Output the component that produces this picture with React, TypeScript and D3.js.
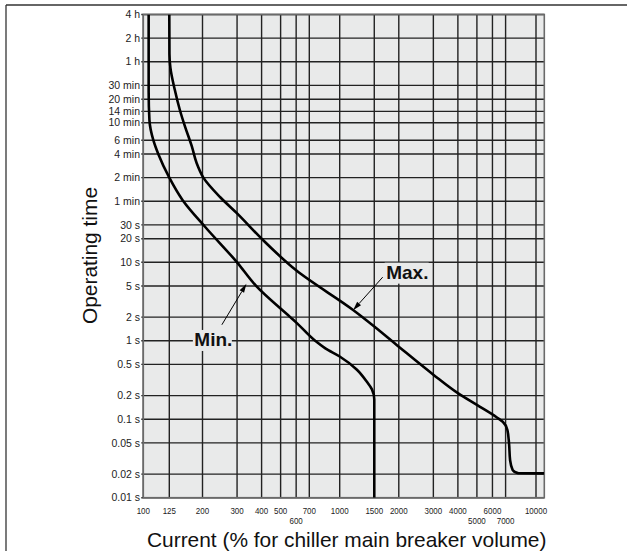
import React from 'react';
import * as d3 from 'd3';

// ---------- data ----------
const xTickValues = [100, 125, 200, 300, 400, 500, 600, 700, 1000, 1500, 2000, 3000, 4000, 5000, 6000, 7000, 10000];
const xTickLowerRow = [600, 5000, 7000];

const yTickValues = [0.01, 0.02, 0.05, 0.1, 0.2, 0.5, 1, 2, 5, 10, 20, 30, 60, 120, 240, 360, 600, 840, 1200, 1800, 3600, 7200, 14400];
const yTickLabels = ['0.01 s', '0.02 s', '0.05 s', '0.1 s', '0.2 s', '0.5 s', '1 s', '2 s', '5 s', '10 s', '20 s', '30 s', '1 min', '2 min', '4 min', '6 min', '10 min', '14 min', '20 min', '30 min', '1 h', '2 h', '4 h'];

// Min. curve (current %, seconds)
const minCurrent = [104.7, 104.7, 105.4, 109, 113.7, 125, 151, 207, 300, 375, 560, 605, 750, 845, 1000, 1220, 1375, 1460, 1500, 1500];
const minTime = [14400, 1500, 650, 360, 240, 120, 62, 28, 10, 5, 2, 1.68, 1.0, 0.8, 0.63, 0.43, 0.3, 0.24, 0.18, 0.01];

// Max. curve (current %, seconds)
const maxCurrent = [125, 125.3, 127, 135, 145, 156, 172, 184, 202, 247, 300, 400, 600, 1175, 1500, 2000, 3000, 4000, 5000, 6300, 6770, 7150, 7290, 7380, 7610, 8130, 11000];
const maxTime = [14400, 4500, 3000, 1590, 880, 540, 300, 184, 120, 67, 42, 20, 7.9, 2.45, 1.52, 0.84, 0.37, 0.215, 0.152, 0.106, 0.093, 0.073, 0.049, 0.03, 0.0225, 0.0205, 0.0204];

// annotations: label, arrow tail (current, time), arrow tip (current, time)
const annoLabels = ['Max.', 'Min.'];
const annoTail = [[1656, 6.47], [251, 1.6]];
const annoTip = [[1170, 2.45], [335, 5.32]];

const xTitle = 'Current (% for chiller main breaker volume)';
const yTitle = 'Operating time';

// ---------- layout ----------
const W = 627;
const H = 551;
const left = 143.3;
const right = 544.3;
const top = 14.5;
const bottom = 497.7;
const FONT = 'Liberation Sans, Arial, Helvetica, sans-serif';

export default function App() {
  const x = d3.scaleLog().domain([100, 125, 200, 10000]).range([left, 169.3, 202.5, 536]);
  const y = d3.scaleLog().domain([0.01, 14400]).range([bottom, top]);

  const line = d3
    .line<[number, number]>()
    .x((d) => x(d[0]))
    .y((d) => y(d[1]))
    .curve(d3.curveMonotoneY);

  const minPts = minCurrent.map((c, i) => [c, minTime[i]] as [number, number]);
  const maxPts = maxCurrent.map((c, i) => [c, maxTime[i]] as [number, number]);

  const gridColor = '#222';

  const annos = annoLabels.map((label, i) => {
    const tx = x(annoTail[i][0]);
    const ty = y(annoTail[i][1]);
    const px = x(annoTip[i][0]);
    const py = y(annoTip[i][1]);
    const ang = Math.atan2(py - ty, px - tx);
    const len = 9;
    const hw = 2.6;
    const bx = px - len * Math.cos(ang);
    const by = py - len * Math.sin(ang);
    const head = [
      [px, py],
      [bx + hw * Math.sin(ang), by - hw * Math.cos(ang)],
      [bx - hw * Math.sin(ang), by + hw * Math.cos(ang)],
    ];
    const isMax = label === 'Max.';
    const textX = isMax ? tx + 3.5 : tx - 27.5;
    const textY = isMax ? ty + 2 : ty + 21.7;
    const textW = isMax ? 44 : 39;
    return { label, tx, ty, bx, by, head, textX, textY, textW };
  });

  return (
    <svg width={W} height={H} style={{ display: 'block', position: 'absolute', left: 0, top: 0 }}>
      <rect x={0} y={0} width={W} height={H} fill="#fff" />
      {/* outer frame */}
      <line x1={6} y1={5} x2={W} y2={5} stroke="#333" strokeWidth={1.3} />
      <line x1={6} y1={5} x2={6} y2={H} stroke="#333" strokeWidth={1.3} />

      <defs>
        <clipPath id="plotclip">
          <rect x={left} y={top} width={right - left} height={bottom - top} />
        </clipPath>
      </defs>

      {/* plot background */}
      <rect x={left} y={top} width={right - left} height={bottom - top} fill="#e9eaea" />

      {/* grid */}
      {xTickValues.map((v) => (
        <line key={'gx' + v} x1={x(v)} x2={x(v)} y1={top} y2={bottom} stroke={gridColor} strokeWidth={1.4} />
      ))}
      {yTickValues.map((v) => (
        <line key={'gy' + v} x1={left - 2} x2={right} y1={y(v)} y2={y(v)} stroke={gridColor} strokeWidth={1.4} />
      ))}

      {/* annotation label backgrounds */}
      {annos.map((a) => (
        <rect key={'bg' + a.label} x={a.textX - 1.5} y={a.textY - 16.5} width={a.textW} height={21} fill="#e9eaea" />
      ))}

      {/* plot border */}
      <rect x={left} y={top} width={right - left} height={bottom - top} fill="none" stroke="#6a6a6a" strokeWidth={1.6} />

      {/* curves */}
      <g clipPath="url(#plotclip)">
        <path d={line(minPts) || ''} fill="none" stroke="#000" strokeWidth={2.6} strokeLinejoin="round" />
        <path d={line(maxPts) || ''} fill="none" stroke="#000" strokeWidth={2.6} strokeLinejoin="round" />
      </g>

      {/* annotations */}
      {annos.map((a) => (
        <g key={'an' + a.label}>
          <line x1={a.tx} y1={a.ty} x2={a.bx} y2={a.by} stroke="#000" strokeWidth={1} />
          <polygon points={a.head.map((p) => p.join(',')).join(' ')} fill="#000" />
          <text x={a.textX} y={a.textY} fontFamily={FONT} fontWeight="bold" fontSize={19} fill="#111">
            {a.label}
          </text>
        </g>
      ))}

      {/* y tick labels */}
      {yTickValues.map((v, i) => (
        <text
          key={'yl' + v}
          x={140}
          y={y(v)}
          dy="0.35em"
          textAnchor="end"
          fontFamily={FONT}
          fontSize={10.5}
          fill="#222"
        >
          {yTickLabels[i]}
        </text>
      ))}

      {/* x tick labels */}
      {xTickValues.map((v) => {
        const lower = xTickLowerRow.includes(v);
        return (
          <text
            key={'xl' + v}
            transform={`translate(${x(v)},${lower ? 523.5 : 513.5}) scale(0.84,1)`}
            textAnchor="middle"
            fontFamily={FONT}
            fontSize={9.5}
            fill="#222"
          >
            {v}
          </text>
        );
      })}

      {/* axis titles */}
      <text x={346.7} y={547} textAnchor="middle" fontFamily={FONT} fontSize={20.9} fill="#111">
        {xTitle}
      </text>
      <text
        transform={`translate(97,255.5) rotate(-90)`}
        textAnchor="middle"
        fontFamily={FONT}
        fontSize={20.9}
        fill="#111"
      >
        {yTitle}
      </text>
    </svg>
  );
}
